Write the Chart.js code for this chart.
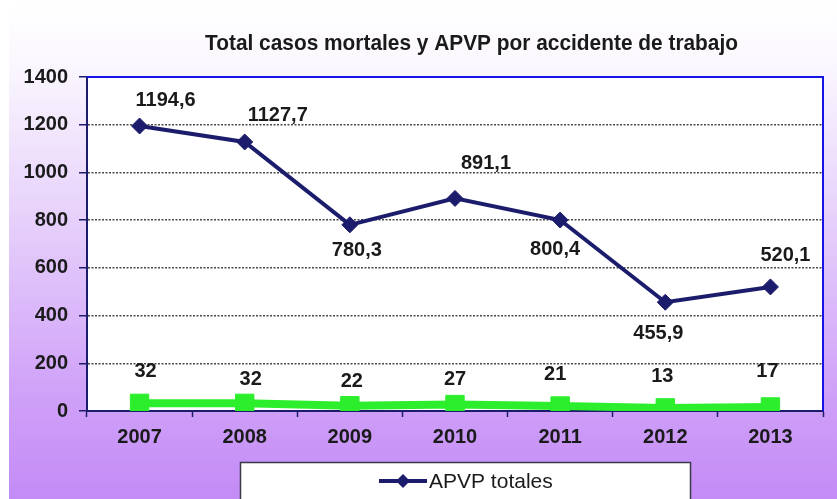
<!DOCTYPE html>
<html>
<head>
<meta charset="utf-8">
<script src="https://cdn.jsdelivr.net/npm/chart.js@4.4.1/dist/chart.umd.min.js"></script>
<style>
    html, body { margin: 0; padding: 0; background: #fff; }
    canvas { display: block; }
</style>
</head>
<body>
<canvas id="chart" width="837" height="499"></canvas>
<script>
(function() {
    'use strict';

    // Data
    const years = ['2007', '2008', '2009', '2010', '2011', '2012', '2013'];
    const apvpTotales = [1194.6, 1127.7, 780.3, 891.1, 800.4, 455.9, 520.1];
    const casosMortales = [32, 32, 22, 27, 21, 13, 17];
    const yTicks = [0, 200, 400, 600, 800, 1000, 1200, 1400];

    const titleText = 'Total casos mortales y APVP por accidente de trabajo';
    const legendText = 'APVP totales';

    // Label placement (pixel offsets from each point)
    const apvpLabelOffsets = [[26, -26], [33, -26], [7, 26], [31, -35], [-5, 29], [-7, 31], [15, -31]];
    const mortalesLabelOffsets = [[6, -32], [6, -24], [2, -24], [0, -25], [-5, -32], [-3, -31], [-3, -35]];

    const NAVY = '#1c1c6c';
    const GREEN = '#2cee2c';
    const TEXT = '#1a1a1a';
    const FONT = "'Liberation Sans', Arial, sans-serif";

    function formatComma(v) {
        return String(v).replace('.', ',');
    }

    const backgroundPlugin = {
        id: 'background',
        beforeDraw(chart) {
            const ctx = chart.ctx;
            const area = chart.chartArea;
            ctx.save();
            ctx.fillStyle = '#ffffff';
            ctx.fillRect(0, 0, chart.width, chart.height);
            const g = ctx.createLinearGradient(0, 0, 0, chart.height);
            g.addColorStop(0, '#ffffff');
            g.addColorStop(0.12, '#fbf8fe');
            g.addColorStop(0.45, '#e6cffb');
            g.addColorStop(0.78, '#d0a2f8');
            g.addColorStop(1, '#c38bf6');
            ctx.fillStyle = g;
            ctx.fillRect(9, 0, chart.width - 9, chart.height);
            ctx.fillStyle = '#ffffff';
            ctx.fillRect(area.left, area.top, area.right - area.left, area.bottom - area.top);
            ctx.restore();
        }
    };

    const labelsPlugin = {
        id: 'pointLabels',
        afterDatasetsDraw(chart) {
            const ctx = chart.ctx;
            const offsets = [apvpLabelOffsets, mortalesLabelOffsets];
            ctx.save();
            ctx.font = 'bold 20px ' + FONT;
            ctx.fillStyle = TEXT;
            ctx.textAlign = 'center';
            ctx.textBaseline = 'middle';
            chart.data.datasets.forEach((ds, di) => {
                const meta = chart.getDatasetMeta(di);
                meta.data.forEach((pt, i) => {
                    const off = offsets[di][i];
                    ctx.fillText(formatComma(ds.data[i]), pt.x + off[0], pt.y + off[1]);
                });
            });
            ctx.restore();
        }
    };

    const frameAndLegendPlugin = {
        id: 'frameAndLegend',
        afterDraw(chart) {
            const ctx = chart.ctx;
            const a = chart.chartArea;
            ctx.save();

            // blue top / right frame
            ctx.strokeStyle = '#1414e6';
            ctx.lineWidth = 2;
            ctx.beginPath();
            ctx.moveTo(a.left, a.top);
            ctx.lineTo(a.right, a.top);
            ctx.lineTo(a.right, a.bottom);
            ctx.stroke();

            // title, squeezed to the reference width
            ctx.font = 'bold 22px ' + FONT;
            ctx.fillStyle = TEXT;
            ctx.textAlign = 'center';
            ctx.textBaseline = 'alphabetic';
            const w = ctx.measureText(titleText).width;
            const sx = 533 / w;
            ctx.save();
            ctx.translate(471.5, 50);
            ctx.scale(sx, 1);
            ctx.fillText(titleText, 0, 0);
            ctx.restore();

            // legend box
            ctx.fillStyle = '#ffffff';
            ctx.fillRect(240, 462, 450, 40);
            ctx.strokeStyle = '#3a3a4a';
            ctx.lineWidth = 1.5;
            ctx.strokeRect(240.5, 462.5, 450, 40);

            ctx.strokeStyle = NAVY;
            ctx.lineWidth = 4;
            ctx.beginPath();
            ctx.moveTo(379, 481);
            ctx.lineTo(427, 481);
            ctx.stroke();
            ctx.fillStyle = NAVY;
            ctx.beginPath();
            ctx.moveTo(403, 474);
            ctx.lineTo(410, 481);
            ctx.lineTo(403, 488);
            ctx.lineTo(396, 481);
            ctx.closePath();
            ctx.fill();

            ctx.font = '21px ' + FONT;
            ctx.fillStyle = TEXT;
            ctx.textAlign = 'left';
            ctx.textBaseline = 'middle';
            ctx.fillText(legendText, 429, 482);
            ctx.restore();
        }
    };

    const ctx = document.getElementById('chart').getContext('2d');
    new Chart(ctx, {
        type: 'line',
        data: {
            labels: years,
            datasets: [{
                label: legendText,
                data: apvpTotales,
                borderColor: NAVY,
                backgroundColor: NAVY,
                borderWidth: 4,
                pointStyle: 'rectRot',
                pointRadius: 8,
                pointBorderWidth: 1,
                pointBackgroundColor: NAVY,
                pointBorderColor: NAVY,
                tension: 0
            }, {
                label: 'Casos mortales',
                data: casosMortales,
                borderColor: GREEN,
                backgroundColor: GREEN,
                borderWidth: 8,
                pointStyle: 'rect',
                pointRadius: 13,
                pointBorderWidth: 1,
                pointBackgroundColor: GREEN,
                pointBorderColor: GREEN,
                tension: 0
            }]
        },
        options: {
            responsive: false,
            animation: false,
            devicePixelRatio: 1,
            layout: {
                padding: { left: 0, top: 77, right: 11, bottom: 0 }
            },
            plugins: {
                legend: { display: false },
                title: { display: false },
                tooltip: { enabled: false }
            },
            scales: {
                x: {
                    offset: true,
                    grid: {
                        offset: true,
                        drawOnChartArea: false,
                        drawTicks: true,
                        tickLength: 6,
                        tickColor: NAVY,
                        tickWidth: 1.5
                    },
                    border: { color: NAVY, width: 2 },
                    ticks: {
                        font: { family: FONT, size: 20, weight: 'bold' },
                        color: TEXT,
                        padding: 8,
                        maxRotation: 0
                    },
                    afterFit(scale) {
                        scale.height = 88;
                    }
                },
                y: {
                    min: 0,
                    max: 1400,
                    afterBuildTicks(scale) {
                        scale.ticks = yTicks.map(v => ({ value: v }));
                    },
                    grid: {
                        color: '#4a4a4a',
                        lineWidth: 1.5,
                        drawTicks: true,
                        tickLength: 8,
                        tickColor: NAVY,
                        tickWidth: 1.5,
                        tickBorderDash: []
                    },
                    border: { color: NAVY, width: 2, dash: [2, 1.5] },
                    ticks: {
                        font: { family: FONT, size: 20, weight: 'bold' },
                        color: TEXT,
                        padding: 11,
                        callback: value => String(value)
                    },
                    afterFit(scale) {
                        scale.width = 87;
                    }
                }
            }
        },
        plugins: [backgroundPlugin, labelsPlugin, frameAndLegendPlugin]
    });
})();
</script>
</body>
</html>
